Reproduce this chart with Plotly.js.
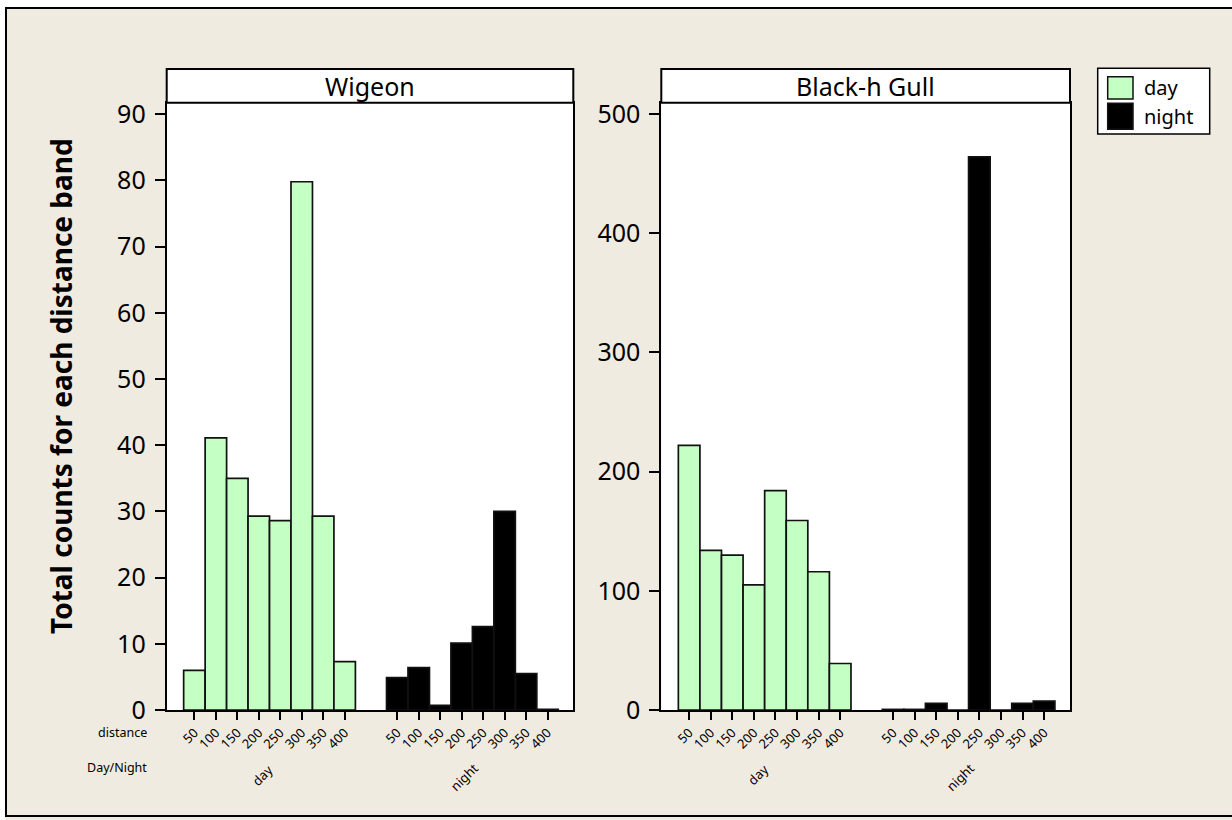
<!DOCTYPE html>
<html>
<head>
<meta charset="utf-8">
<script src="https://cdn.plot.ly/plotly-3.0.1.min.js"></script>
<style>
  html, body { margin: 0; padding: 0; background: #ffffff; }
  #chart { width: 1232px; height: 820px; }
</style>
</head>
<body>
<div id="chart"></div>
<script>
// ---- data ----
const panels = ['Wigeon', 'Black-h Gull'];
const groups = ['day', 'night'];
const distances = ['50', '100', '150', '200', '250', '300', '350', '400'];
const wigeonDay   = [6, 41.1, 35, 29.3, 28.6, 79.8, 29.3, 7.3];
const wigeonNight = [4.9, 6.4, 0.7, 10.1, 12.6, 30, 5.5, 0.1];
const gullDay     = [222, 134, 130, 105, 184, 159, 116, 39];
const gullNight   = [0.5, 0.5, 5.6, 0, 464, 0, 5.6, 7.5];
const yTitle = 'Total counts for each distance band';
const rowLabels = ['distance', 'Day/Night'];

// ---- layout helpers ----
const W = 1232, H = 820;
const px = v => v / W;
const py = v => (H - v) / H;
const FONT = '"Noto Sans", "DejaVu Sans", sans-serif';
const GREEN = '#C4FFC4';
const BG = '#F0EBE1';
const NIGHT_OFFSET = 9.45;       // gap between day and night groups (in bar widths)
const XRANGE = [-1.29, 17.65];

const dayX = distances.map((_, i) => i);
const nightX = distances.map((_, i) => i + NIGHT_OFFSET);
const tickVals = dayX.concat(nightX);
const tickText = distances.concat(distances);

const panelX = [[166.7, 573.3], [661.3, 1070]];
const plotTop = 102.7, plotBottom = 710, stripTop = 69;
const yTop = [91.74, 509.5];
const yDtick = [10, 100];

function bars(x, y, color, xa, ya, name) {
  return {
    type: 'bar', x: x, y: y, name: name, width: 1,
    xaxis: xa, yaxis: ya, showlegend: false,
    marker: { color: color, line: { color: '#111111', width: 1.7 } },
    hoverinfo: 'x+y'
  };
}

const traces = [
  bars(dayX, wigeonDay, GREEN, 'x', 'y', 'day'),
  bars(nightX, wigeonNight, '#000000', 'x', 'y', 'night'),
  bars(dayX, gullDay, GREEN, 'x2', 'y2', 'day'),
  bars(nightX, gullNight, '#000000', 'x2', 'y2', 'night')
];

function xaxis(i) {
  return {
    domain: [px(panelX[i][0]), px(panelX[i][1])],
    anchor: i === 0 ? 'y' : 'y2',
    type: 'linear', range: XRANGE,
    tickmode: 'array', tickvals: tickVals, ticktext: tickText,
    tickangle: -45, ticks: 'outside', ticklen: 8, tickwidth: 2, tickcolor: '#000',
    tickfont: { family: FONT, size: 13, color: '#000' },
    showline: true, linewidth: 2, linecolor: '#000', mirror: true,
    showgrid: false, zeroline: false, fixedrange: true
  };
}
function yaxis(i) {
  return {
    domain: [py(plotBottom), py(plotTop)],
    anchor: i === 0 ? 'x' : 'x2',
    range: [0, yTop[i]], dtick: yDtick[i], tick0: 0,
    ticks: 'outside', ticklen: 10, tickwidth: 2, tickcolor: '#000',
    tickfont: { family: FONT, size: 25, color: '#000' },
    ticklabelstandoff: 4,
    showline: true, linewidth: 2, linecolor: '#000', mirror: true,
    showgrid: false, zeroline: false, fixedrange: true
  };
}

const shapes = [
  // white area outside the outer frame
  { type: 'rect', xref: 'paper', yref: 'paper', x0: -0.01, x1: 1.01, y0: py(7), y1: 1.01,
    fillcolor: '#ffffff', line: { width: 0 }, layer: 'below' },
  { type: 'rect', xref: 'paper', yref: 'paper', x0: -0.01, x1: px(5), y0: -0.01, y1: 1.01,
    fillcolor: '#ffffff', line: { width: 0 }, layer: 'below' },
  // outer frame
  { type: 'rect', xref: 'paper', yref: 'paper', x0: px(6), x1: px(1240), y0: py(816), y1: py(8),
    fillcolor: 'rgba(0,0,0,0)', line: { color: '#000', width: 2 }, layer: 'above' }
];
const annotations = [];

panels.forEach((p, i) => {
  shapes.push({
    type: 'rect', xref: 'paper', yref: 'paper',
    x0: px(panelX[i][0]), x1: px(panelX[i][1]), y0: py(plotTop), y1: py(stripTop),
    fillcolor: '#ffffff', line: { color: '#000', width: 2 }
  });
  annotations.push({
    xref: 'paper', yref: 'paper', x: px((panelX[i][0] + panelX[i][1]) / 2),
    y: py((plotTop + stripTop) / 2), text: p, showarrow: false,
    xanchor: 'center', yanchor: 'middle',
    font: { family: FONT, size: 25, color: '#000' }
  });
  const xr = i === 0 ? 'x' : 'x2';
  annotations.push({
    xref: xr, yref: 'paper', x: (dayX[0] + dayX[dayX.length - 1]) / 2 - 0.33, y: py(775),
    text: groups[0], showarrow: false, textangle: -45,
    xanchor: 'center', yanchor: 'middle',
    font: { family: FONT, size: 13, color: '#000' }
  });
  annotations.push({
    xref: xr, yref: 'paper', x: (nightX[0] + nightX[nightX.length - 1]) / 2 - 0.38, y: py(777),
    text: groups[1], showarrow: false, textangle: -45,
    xanchor: 'center', yanchor: 'middle',
    font: { family: FONT, size: 13, color: '#000' }
  });
});

// row labels for the axis levels
annotations.push({
  xref: 'paper', yref: 'paper', x: px(149), y: py(732), text: rowLabels[0],
  showarrow: false, xanchor: 'right', yanchor: 'middle',
  font: { family: FONT, size: 12.5, color: '#000' }
});
annotations.push({
  xref: 'paper', yref: 'paper', x: px(149), y: py(767), text: rowLabels[1],
  showarrow: false, xanchor: 'right', yanchor: 'middle',
  font: { family: FONT, size: 12.5, color: '#000' }
});
// y axis title
annotations.push({
  xref: 'paper', yref: 'paper', x: px(61), y: py(386), text: '<b>' + yTitle + '</b>',
  showarrow: false, textangle: -90, xanchor: 'center', yanchor: 'middle',
  font: { family: FONT, size: 28, color: '#000' }
});

// legend (drawn as a key box)
shapes.push({ type: 'rect', xref: 'paper', yref: 'paper',
  x0: px(1097.7), x1: px(1209.7), y0: py(134), y1: py(68.3),
  fillcolor: '#ffffff', line: { color: '#000', width: 1.5 } });
const legendColors = [GREEN, '#000000'];
const legendRows = [[76.7, 99], [103.3, 129.3]];
groups.forEach((g, k) => {
  shapes.push({ type: 'rect', xref: 'paper', yref: 'paper',
    x0: px(1107.7), x1: px(1133), y0: py(legendRows[k][1]), y1: py(legendRows[k][0]),
    fillcolor: legendColors[k], line: { color: '#111', width: 1.5 } });
  annotations.push({
    xref: 'paper', yref: 'paper', x: px(1142), y: py((legendRows[k][0] + legendRows[k][1]) / 2),
    text: g, showarrow: false, xanchor: 'left', yanchor: 'middle',
    font: { family: FONT, size: 20, color: '#000' }
  });
});

const layout = {
  width: W, height: H,
  margin: { l: 0, r: 0, t: 0, b: 0, pad: 0 },
  paper_bgcolor: BG, plot_bgcolor: '#ffffff',
  barmode: 'overlay', bargap: 0,
  showlegend: false,
  font: { family: FONT, color: '#000' },
  xaxis: xaxis(0), yaxis: yaxis(0),
  xaxis2: xaxis(1), yaxis2: yaxis(1),
  shapes: shapes, annotations: annotations
};

Plotly.newPlot('chart', traces, layout, { staticPlot: true, displayModeBar: false });
</script>
</body>
</html>
